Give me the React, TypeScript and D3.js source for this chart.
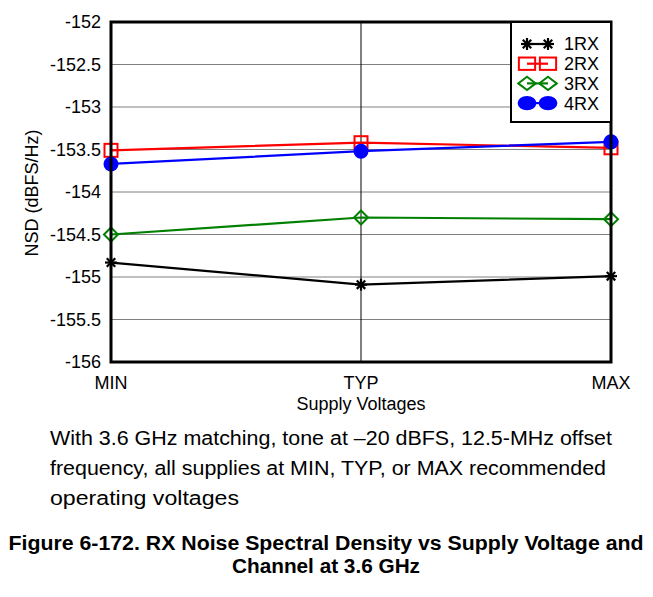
import React, { useEffect, useRef } from 'react';
import * as d3 from 'd3';

const categories = ['MIN', 'TYP', 'MAX'];
const seriesNames = ['1RX', '2RX', '3RX', '4RX'];
const rx1 = [-154.83, -155.09, -154.99];
const rx2 = [-153.51, -153.42, -153.48];
const rx3 = [-154.5, -154.3, -154.32];
const rx4 = [-153.67, -153.52, -153.41];
const yTicks = [-152, -152.5, -153, -153.5, -154, -154.5, -155, -155.5, -156];
const captionLines = [
  'With 3.6 GHz matching, tone at \u201320 dBFS, 12.5-MHz offset',
  'frequency, all supplies at MIN, TYP, or MAX recommended',
  'operating voltages',
];
const titleLines = [
  'Figure 6-172. RX Noise Spectral Density vs Supply Voltage and',
  'Channel at 3.6 GHz',
];

const colors = ['#000000', '#ff0000', '#008000', '#0000ff'];
const markers = ['star', 'square', 'diamond', 'circle'];
const FONT = '"Liberation Sans", Arial, sans-serif';
// rendered widths of the text lines in the figure
const captionWidths = [562, 556, 189];
const titleWidths = [635, 188];

const App: React.FC = () => {
  const svgRef = useRef<SVGSVGElement>(null);

  useEffect(() => {
    if (!svgRef.current) return;
    const svg = d3.select(svgRef.current);
    svg.selectAll('*').remove();

    const left = 111, right = 611, top = 22, bottom = 362;

    const x = d3.scalePoint<string>().domain(categories).range([left, right]);
    const y = d3.scaleLinear().domain([-156, -152]).range([bottom, top]);

    // top rule
    svg.append('line')
      .attr('x1', 0).attr('x2', 653).attr('y1', 4.5).attr('y2', 4.5)
      .attr('stroke', '#8a8a8a').attr('stroke-width', 1.5);

    // horizontal grid
    svg.append('g')
      .selectAll('line')
      .data(yTicks)
      .join('line')
      .attr('x1', left).attr('x2', right)
      .attr('y1', d => y(d)).attr('y2', d => y(d))
      .attr('stroke', '#808080').attr('stroke-width', 1);

    // vertical grid at TYP
    svg.append('line')
      .attr('x1', x('TYP')!).attr('x2', x('TYP')!)
      .attr('y1', top).attr('y2', bottom)
      .attr('stroke', '#000').attr('stroke-width', 1);

    // y tick labels
    svg.append('g')
      .selectAll('text')
      .data(yTicks)
      .join('text')
      .attr('x', 101)
      .attr('y', d => y(d))
      .attr('dy', '0.35em')
      .attr('text-anchor', 'end')
      .style('font-family', FONT)
      .style('font-size', '18px')
      .text(d => String(d));

    // x tick labels
    svg.append('g')
      .selectAll('text')
      .data(categories)
      .join('text')
      .attr('x', d => x(d)!)
      .attr('y', 389)
      .attr('text-anchor', 'middle')
      .style('font-family', FONT)
      .style('font-size', '18px')
      .text(d => d);

    svg.append('text')
      .attr('x', x('TYP')!).attr('y', 410)
      .attr('text-anchor', 'middle')
      .style('font-family', FONT).style('font-size', '18px')
      .text('Supply Voltages');

    svg.append('text')
      .attr('transform', `translate(38,${(top + bottom) / 2 + 1}) rotate(-90)`)
      .attr('text-anchor', 'middle')
      .style('font-family', FONT).style('font-size', '18px')
      .text('NSD (dBFS/Hz)');

    type G = d3.Selection<SVGGElement, unknown, null, undefined>;
    const drawMarker = (g: G, kind: string, cx: number, cy: number, color: string, sx = 1, sy = 1) => {
      if (kind === 'star') {
        const s = 6;
        const p = g.append('g').attr('stroke', color).attr('stroke-width', 2.2);
        [0, 45, 90, 135].forEach(a => {
          const r = (a * Math.PI) / 180;
          p.append('line')
            .attr('x1', cx - s * Math.cos(r)).attr('y1', cy - s * Math.sin(r))
            .attr('x2', cx + s * Math.cos(r)).attr('y2', cy + s * Math.sin(r));
        });
      } else if (kind === 'square') {
        g.append('rect')
          .attr('x', cx - 6.5 * sx).attr('y', cy - 6.5 * sy)
          .attr('width', 13 * sx).attr('height', 13 * sy)
          .attr('fill', 'none').attr('stroke', color).attr('stroke-width', 2);
      } else if (kind === 'diamond') {
        const w = 7 * sx, h = 7 * sy;
        g.append('path')
          .attr('d', `M${cx},${cy - h}L${cx + w},${cy}L${cx},${cy + h}L${cx - w},${cy}Z`)
          .attr('fill', 'none').attr('stroke', color).attr('stroke-width', 2);
      } else {
        g.append('ellipse')
          .attr('cx', cx).attr('cy', cy).attr('rx', 7.5 * sx).attr('ry', 7.5 * sy)
          .attr('fill', color);
      }
    };

    const allSeries = [rx1, rx2, rx3, rx4];
    const line = d3.line<number>()
      .x((_, i) => x(categories[i])!)
      .y(d => y(d));

    const plot = svg.append('g');
    allSeries.forEach((vals, si) => {
      const g = plot.append('g');
      g.append('path')
        .attr('d', line(vals)!)
        .attr('fill', 'none')
        .attr('stroke', colors[si])
        .attr('stroke-width', 2.2);
      vals.forEach((v, i) => drawMarker(g, markers[si], x(categories[i])!, y(v), colors[si]));
    });

    // frame
    svg.append('rect')
      .attr('x', left).attr('y', top)
      .attr('width', right - left).attr('height', bottom - top)
      .attr('fill', 'none').attr('stroke', '#000').attr('stroke-width', 3);

    // legend
    const lg = svg.append('g');
    lg.append('rect')
      .attr('x', 511).attr('y', top)
      .attr('width', right - 511).attr('height', 100)
      .attr('fill', '#fff').attr('stroke', '#000').attr('stroke-width', 2);
    seriesNames.forEach((name, i) => {
      const cy = 44 + i * 19.7;
      const row = lg.append('g');
      row.append('line')
        .attr('x1', 527).attr('x2', 548).attr('y1', cy).attr('y2', cy)
        .attr('stroke', colors[i]).attr('stroke-width', 2.2);
      drawMarker(row, markers[i], 527, cy, colors[i], 1.25, 0.95);
      drawMarker(row, markers[i], 548, cy, colors[i], 1.25, 0.95);
      row.append('text')
        .attr('x', 564).attr('y', cy).attr('dy', '0.36em')
        .style('font-family', FONT).style('font-size', '18px')
        .text(name);
    });

    // caption
    svg.append('g')
      .selectAll('text')
      .data(captionLines)
      .join('text')
      .attr('x', 50)
      .attr('y', (_, i) => 445 + i * 30)
      .attr('textLength', (_, i) => captionWidths[i])
      .attr('lengthAdjust', 'spacingAndGlyphs')
      .style('font-family', FONT)
      .style('font-size', '20px')
      .text(d => d);

    svg.append('g')
      .selectAll('text')
      .data(titleLines)
      .join('text')
      .attr('x', 326)
      .attr('y', (_, i) => 550 + i * 23)
      .attr('text-anchor', 'middle')
      .attr('textLength', (_, i) => titleWidths[i])
      .attr('lengthAdjust', 'spacingAndGlyphs')
      .style('font-family', FONT)
      .style('font-size', '20px')
      .style('font-weight', 'bold')
      .text(d => d);
  }, []);

  return <svg ref={svgRef} width={653} height={597} style={{ display: 'block', margin: '-8px' }} />;
};

export default App;
